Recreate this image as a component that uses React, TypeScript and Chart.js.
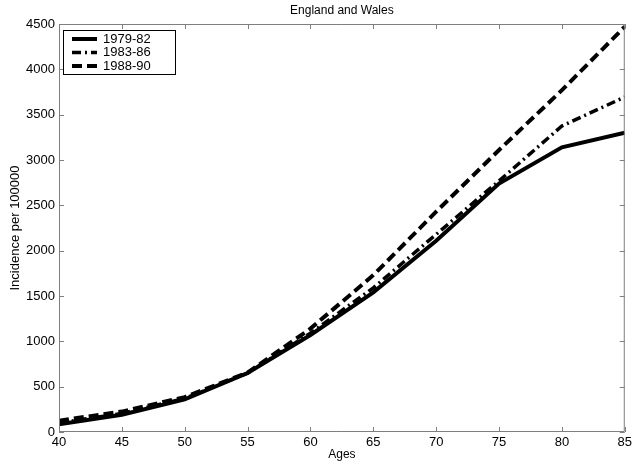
import React, { useEffect, useRef } from "react";
import { Chart, registerables } from "chart.js";

Chart.register(...registerables);

const ages = [40, 45, 50, 55, 60, 65, 70, 75, 80, 85];
const seriesNames = ["1979-82", "1983-86", "1988-90"];
const s1979 = [85, 190, 360, 650, 1070, 1540, 2110, 2740, 3140, 3300];
const s1983 = [100, 205, 370, 650, 1090, 1590, 2180, 2770, 3375, 3695];
const s1988 = [125, 225, 385, 655, 1140, 1730, 2430, 3110, 3770, 4470];
const xTicks = [40, 45, 50, 55, 60, 65, 70, 75, 80, 85];
const yTicks = [0, 500, 1000, 1500, 2000, 2500, 3000, 3500, 4000, 4500];

const FONT = "'Liberation Sans', Arial, sans-serif";

const boxPlugin = {
  id: "matlabBox",
  afterDraw(chart: any) {
    const { ctx, chartArea: a, scales } = chart;
    ctx.save();
    ctx.strokeStyle = "#7f7f7f";
    ctx.lineWidth = 1;
    ctx.beginPath();
    ctx.rect(a.left + 0.5, a.top + 0.5, a.right - a.left - 1, a.bottom - a.top - 1);
    ctx.stroke();
    const tl = 5;
    ctx.beginPath();
    xTicks.forEach((v) => {
      const x = Math.round(scales.x.getPixelForValue(v)) + 0.5;
      ctx.moveTo(x, a.bottom);
      ctx.lineTo(x, a.bottom - tl);
      ctx.moveTo(x, a.top);
      ctx.lineTo(x, a.top + tl);
    });
    yTicks.forEach((v) => {
      const y = Math.round(scales.y.getPixelForValue(v)) + 0.5;
      ctx.moveTo(a.left, y);
      ctx.lineTo(a.left + tl, y);
      ctx.moveTo(a.right, y);
      ctx.lineTo(a.right - tl, y);
    });
    ctx.stroke();

    // title
    ctx.fillStyle = "#000";
    ctx.font = `12px ${FONT}`;
    ctx.textAlign = "center";
    ctx.textBaseline = "middle";
    ctx.fillText("England and Wales", (a.left + a.right) / 2, 11);

    // legend
    const lx = a.left + 4;
    const ly = a.top + 6;
    const lw = 112;
    const lh = 44;
    ctx.fillStyle = "#fff";
    ctx.fillRect(lx, ly, lw, lh);
    ctx.strokeStyle = "#000";
    ctx.lineWidth = 1;
    ctx.strokeRect(lx + 0.5, ly + 0.5, lw, lh);
    chart.data.datasets.forEach((ds: any, i: number) => {
      const yy = ly + 9 + i * 13.5;
      ctx.save();
      ctx.strokeStyle = "#000";
      ctx.lineWidth = ds.borderWidth;
      ctx.setLineDash(ds.borderDash || []);
      ctx.beginPath();
      ctx.moveTo(lx + 9, yy);
      ctx.lineTo(lx + 34, yy);
      ctx.stroke();
      ctx.restore();
      ctx.fillStyle = "#000";
      ctx.font = `13px ${FONT}`;
      ctx.textAlign = "left";
      ctx.textBaseline = "middle";
      ctx.fillText(ds.label, lx + 40, yy);
    });
    ctx.restore();
  },
};

export default function App() {
  const ref = useRef<HTMLCanvasElement | null>(null);
  useEffect(() => {
    document.body.style.margin = "0";
    const mk = (vals: number[]) => ages.map((a, i) => ({ x: a, y: vals[i] }));
    const chart = new Chart(ref.current as HTMLCanvasElement, {
      type: "line",
      data: {
        datasets: [
          { label: seriesNames[0], data: mk(s1979), borderColor: "#000", borderWidth: 4, pointRadius: 0, tension: 0, fill: false },
          { label: seriesNames[1], data: mk(s1983), borderColor: "#000", borderWidth: 3.5, borderDash: [9, 4, 2, 4], pointRadius: 0, tension: 0, fill: false },
          { label: seriesNames[2], data: mk(s1988), borderColor: "#000", borderWidth: 4, borderDash: [10, 5], pointRadius: 0, tension: 0, fill: false },
        ],
      },
      options: {
        animation: false,
        responsive: false,
        layout: { padding: { left: 0, top: 24, right: 7, bottom: 0 } },
        plugins: { legend: { display: false }, title: { display: false }, tooltip: { enabled: false } },
        scales: {
          x: {
            type: "linear",
            min: 40,
            max: 85,
            afterBuildTicks: (s: any) => { s.ticks = xTicks.map((v) => ({ value: v })); },
            afterFit: (s: any) => { s.height = 34; },
            grid: { display: false, drawTicks: false },
            border: { display: false },
            ticks: { padding: 3, color: "#000", font: { family: FONT, size: 13 }, maxRotation: 0, autoSkip: false, callback: (v: any) => String(v) },
            title: { display: true, text: "Ages", color: "#000", font: { family: FONT, size: 12 }, padding: { top: 0, bottom: 4 } },
          },
          y: {
            type: "linear",
            min: 0,
            max: 4500,
            afterBuildTicks: (s: any) => { s.ticks = yTicks.map((v) => ({ value: v })); },
            afterFit: (s: any) => { s.width = 59; },
            grid: { display: false, drawTicks: false },
            border: { display: false },
            ticks: { padding: 4, color: "#000", font: { family: FONT, size: 13 }, autoSkip: false, callback: (v: any) => String(v) },
            title: { display: true, text: "Incidence per 100000", color: "#000", font: { family: FONT, size: 13 }, padding: { top: 8, bottom: 0 } },
          },
        },
      },
      plugins: [boxPlugin],
    });
    return () => chart.destroy();
  }, []);
  return (
    <div style={{ width: 635, height: 466 }}>
      <canvas ref={ref} width={635} height={466} />
    </div>
  );
}
